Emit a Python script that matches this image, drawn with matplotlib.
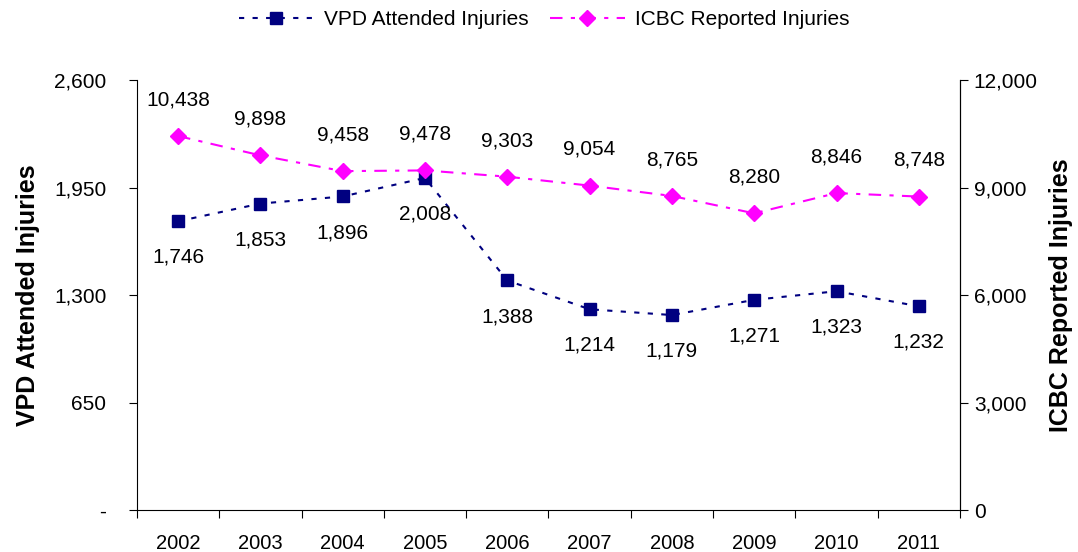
import matplotlib
matplotlib.use('Agg')
import matplotlib.pyplot as plt
from matplotlib.ticker import FuncFormatter, FixedLocator
from matplotlib.lines import Line2D

plt.rcParams['font.family'] = ['Liberation Sans', 'DejaVu Sans']

# Dados
years = ['2002', '2003', '2004', '2005', '2006', '2007', '2008', '2009', '2010', '2011']
vpd = [1746, 1853, 1896, 2008, 1388, 1214, 1179, 1271, 1323, 1232]
icbc = [10438, 9898, 9458, 9478, 9303, 9054, 8765, 8280, 8846, 8748]
vpd_ticks = [0, 650, 1300, 1950, 2600]
icbc_ticks = [0, 3000, 6000, 9000, 12000]

navy = '#000080'
magenta = '#FF00FF'
vpd_dash = (2.5, 4)
icbc_dash = (6, 4, 2, 4)
x = list(range(len(years)))

fig = plt.figure(figsize=(10.78, 5.52), dpi=100, facecolor='white')
ax = fig.add_axes([0.127, 0.076, 0.7635, 0.779])
ax2 = ax.twinx()

ax.plot(x, vpd, color=navy, lw=1.5, dashes=vpd_dash, marker='s', ms=8.5, zorder=3)
ax2.plot(x, icbc, color=magenta, lw=1.5, dashes=icbc_dash, marker='D', ms=8.5, zorder=3)

# Rótulos de dados
for i, v in enumerate(vpd):
    ax.annotate(f'{v:,}', (i, v), xytext=(0, -26), textcoords='offset points',
                ha='center', va='center', fontsize=15)
for i, v in enumerate(icbc):
    ax2.annotate(f'{v:,}', (i, v), xytext=(0, 26), textcoords='offset points',
                 ha='center', va='center', fontsize=15)

# Eixos
ax.set_xlim(-0.5, len(years) - 0.5)
ax.set_ylim(0, 2600)
ax2.set_ylim(0, 12000)
ax.set_xticks([i - 0.5 for i in range(len(years) + 1)])
ax.set_xticklabels([])
ax.xaxis.set_minor_locator(FixedLocator(x))
ax.set_xticklabels(years, minor=True, fontsize=14.5)
ax.tick_params(axis='x', which='minor', length=0, pad=17)
ax.tick_params(axis='x', which='major', length=6, direction='out')

ax.set_yticks(vpd_ticks)
ax.yaxis.set_major_formatter(FuncFormatter(lambda v, p: '-' if v == 0 else f'{int(v):,}'))
ax2.set_yticks(icbc_ticks)
ax2.yaxis.set_major_formatter(FuncFormatter(lambda v, p: f'{int(v):,}'))
ax.tick_params(axis='y', labelsize=15, length=6, pad=16)
ax2.tick_params(axis='y', labelsize=15, length=6, pad=4)

for a in (ax, ax2):
    a.spines['top'].set_visible(False)
ax2.spines['bottom'].set_visible(False)
ax2.spines['left'].set_visible(False)

ax.set_ylabel('VPD Attended Injuries', fontsize=18, fontweight='bold', labelpad=10)
ax2.set_ylabel('ICBC Reported Injuries', fontsize=18, fontweight='bold', labelpad=8)

# Legenda
handles = [
    Line2D([], [], color=navy, lw=1.5, dashes=vpd_dash, marker='s', ms=8.5),
    Line2D([], [], color=magenta, lw=1.5, dashes=icbc_dash, marker='D', ms=8.5),
]
fig.legend(handles, ['VPD Attended Injuries', 'ICBC Reported Injuries'],
           loc='center', bbox_to_anchor=(0.505, 0.965), ncol=2, frameon=False,
           fontsize=15, handlelength=3.6, columnspacing=1.0, handletextpad=0.5)

plt.savefig('out.png', dpi=100)
plt.close()
